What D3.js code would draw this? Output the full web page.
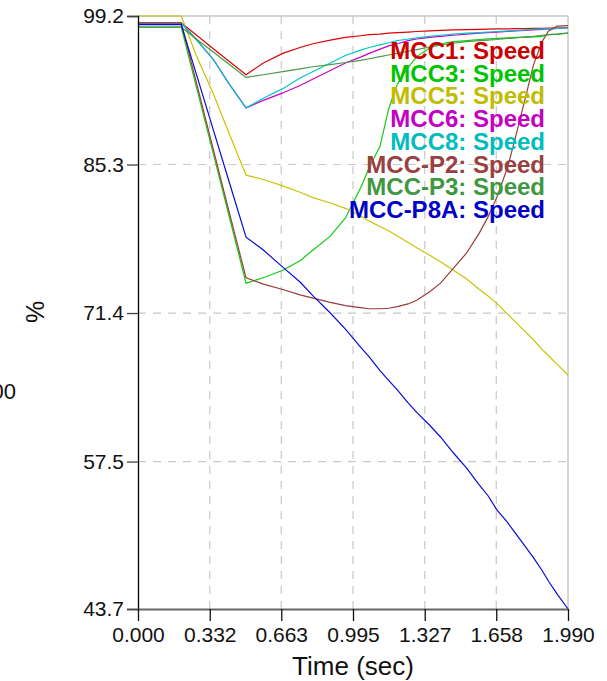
<!DOCTYPE html>
<html>
<head>
<meta charset="utf-8">
<script src="https://cdn.jsdelivr.net/npm/d3@7"></script>
<style>
  body { margin: 0; background: #fff; }
  svg { display: block; font-family: "Liberation Sans", Arial, sans-serif; }
</style>
</head>
<body>
<svg id="chart" width="607" height="681"></svg>
<script>
// time grid (sec) shared by all series
const times = [0, 0.2, 0.27, 0.35, 0.42, 0.5, 0.58, 0.67, 0.75, 0.81, 0.89, 0.96, 1.03, 1.07, 1.12, 1.16,
  1.2, 1.25, 1.29, 1.35, 1.4, 1.46, 1.52, 1.58, 1.62, 1.66, 1.71, 1.75, 1.79, 1.83, 1.87, 1.9, 1.94, 1.99];

const mcc1 = [98.55, 98.55, 97.42, 96.12, 94.99, 93.7, 94.8, 95.7, 96.25, 96.6, 96.95, 97.2, 97.35, 97.45, 97.5, 97.6,
  97.65, 97.7, 97.75, 97.8, 97.85, 97.9, 97.92, 97.95, 97.97, 98.0, 98.0, 98.02, 98.03, 98.05, 98.05, 98.06, 98.07, 98.1];
const mcc3 = [98.15, 98.15, 92.56, 86.2, 80.6, 74.2, 74.7, 75.4, 76.3, 77.3, 78.6, 80.3, 83.1, 85.0, 87.0, 90.5,
  92.8, 94.4, 95.4, 96.2, 96.6, 96.8, 96.9, 97.0, 97.05, 97.1, 97.15, 97.2, 97.2, 97.25, 97.3, 97.45, 97.5, 97.6];
const mcc5 = [99.2, 99.2, 95.5, 91.85, 88.3, 84.3, 83.9, 83.3, 82.7, 82.2, 81.7, 81.2, 80.5, 80.0, 79.5, 79.1,
  78.6, 78.0, 77.5, 76.8, 76.2, 75.4, 74.6, 73.6, 73.0, 72.3, 71.3, 70.5, 69.7, 68.9, 68.0, 67.4, 66.6, 65.6];
const mcc6 = [98.55, 98.55, 97.0, 95.1, 92.9, 90.6, 91.3, 92.0, 92.7, 93.3, 94.1, 94.8, 95.35, 95.7, 96.1, 96.4,
  96.6, 96.9, 97.05, 97.2, 97.3, 97.4, 97.5, 97.6, 97.65, 97.7, 97.75, 97.8, 97.85, 97.9, 97.95, 98.0, 98.05, 98.1];
const mcc8 = [98.55, 98.55, 97.0, 95.1, 92.9, 90.6, 91.5, 92.4, 93.4, 94.0, 94.8, 95.5, 96.0, 96.25, 96.5, 96.7,
  96.9, 97.05, 97.15, 97.3, 97.4, 97.5, 97.6, 97.65, 97.7, 97.75, 97.8, 97.85, 97.9, 97.95, 98.0, 98.0, 98.05, 98.1];
const mccP2 = [98.55, 98.55, 92.99, 86.6, 81.0, 74.7, 74.1, 73.6, 73.1, 72.8, 72.4, 72.1, 71.9, 71.8, 71.8, 71.85,
  72.0, 72.25, 72.6, 73.4, 74.2, 75.6, 77.0, 78.9, 80.4, 82.2, 85.0, 88.1, 91.3, 94.6, 96.8, 97.8, 98.25, 98.3];
const mccP3 = [98.15, 98.15, 97.05, 95.8, 94.7, 93.45, 93.7, 94.0, 94.25, 94.45, 94.65, 94.85, 95.05, 95.2, 95.4, 95.55,
  95.7, 95.9, 96.05, 96.3, 96.5, 96.65, 96.8, 96.9, 96.95, 97.0, 97.1, 97.15, 97.25, 97.3, 97.4, 97.45, 97.5, 97.6];
const mccP8A = [98.4, 98.4, 93.76, 88.45, 83.8, 78.5, 77.3, 75.7, 74.3, 73.0, 71.4, 69.9, 68.2, 67.3, 66.0, 65.1,
  64.2, 63.0, 62.1, 60.9, 59.8, 58.3, 56.9, 55.3, 54.3, 53.0, 51.8, 50.7, 49.6, 48.5, 47.3, 46.3, 45.1, 43.7];

const seriesNames = ["MCC1: Speed", "MCC3: Speed", "MCC5: Speed", "MCC6: Speed", "MCC8: Speed",
  "MCC-P2: Speed", "MCC-P3: Speed", "MCC-P8A: Speed"];
const seriesValues = [mcc1, mcc3, mcc5, mcc6, mcc8, mccP2, mccP3, mccP8A];

const xTicks = [0, 0.332, 0.663, 0.995, 1.327, 1.658, 1.99];
const xTickLabels = ["0.000", "0.332", "0.663", "0.995", "1.327", "1.658", "1.990"];
const yTicks = [43.7, 57.5, 71.4, 85.3, 99.2];
const yTickLabels = ["43.7", "57.5", "71.4", "85.3", "99.2"];

const lineColors = ["#dd0000", "#11cc11", "#c8c400", "#cc00cc", "#00c8c8", "#9a3c3c", "#479a47", "#0a0ad8"];
const textColors = ["#cc0000", "#00c400", "#c0bc00", "#c400c4", "#00bcbc", "#9a4040", "#3f983f", "#0000c8"];

const svg = d3.select("#chart");
const plot = { left: 138, right: 568, top: 16, bottom: 609 };

const x = d3.scaleLinear().domain([0, 1.99]).range([plot.left, plot.right]);
const y = d3.scaleLinear().domain([43.7, 99.2]).range([plot.bottom, plot.top]);

// grid
const grid = svg.append("g");
grid.selectAll("line.h")
  .data(yTicks.slice(1, -1))
  .enter().append("line")
  .attr("x1", plot.left).attr("x2", plot.right)
  .attr("y1", d => y(d)).attr("y2", d => y(d))
  .attr("stroke", "#c8c8c8").attr("stroke-width", 1.2).attr("stroke-dasharray", "8,7");
grid.selectAll("line.v")
  .data(xTicks.slice(1, -1))
  .enter().append("line")
  .attr("x1", d => x(d)).attr("x2", d => x(d))
  .attr("y1", plot.top).attr("y2", plot.bottom)
  .attr("stroke", "#c8c8c8").attr("stroke-width", 1.2).attr("stroke-dasharray", "8,7");
grid.append("line")
  .attr("x1", plot.left).attr("x2", plot.right).attr("y1", plot.top).attr("y2", plot.top)
  .attr("stroke", "#c8c8c8").attr("stroke-width", 1.5);
grid.append("line")
  .attr("x1", plot.right).attr("x2", plot.right).attr("y1", plot.top).attr("y2", plot.bottom)
  .attr("stroke", "#c8c8c8").attr("stroke-width", 1.5);

// curves
const line = d3.line()
  .x((d, i) => x(times[i]))
  .y(d => y(d));

svg.append("g")
  .selectAll("path")
  .data(seriesValues)
  .enter().append("path")
  .attr("d", d => line(d))
  .attr("fill", "none")
  .attr("stroke", (d, i) => lineColors[i])
  .attr("stroke-width", 1.2);

// axes
const yAxis = svg.append("g")
  .attr("transform", `translate(${plot.left},0)`)
  .call(d3.axisLeft(y).tickValues(yTicks).tickFormat((d, i) => yTickLabels[i]).tickSize(11).tickPadding(3));
yAxis.select(".domain").attr("stroke", "#000").attr("stroke-width", 1.3);
yAxis.selectAll(".tick line").attr("stroke", "#444").attr("stroke-width", 1.3);
yAxis.selectAll(".tick text").attr("font-size", 21).attr("fill", "#111")
  .attr("font-family", "'Liberation Sans', Arial, sans-serif");

const xAxis = svg.append("g")
  .attr("transform", `translate(0,${plot.bottom})`)
  .call(d3.axisBottom(x).tickValues(xTicks).tickFormat((d, i) => xTickLabels[i]).tickSizeInner(12).tickSizeOuter(0).tickPadding(6));
xAxis.select(".domain").attr("stroke", "#666").attr("stroke-width", 2);
xAxis.selectAll(".tick line").attr("stroke", "#111").attr("stroke-width", 1.3);
xAxis.selectAll(".tick text").attr("font-size", 21).attr("fill", "#111")
  .attr("font-family", "'Liberation Sans', Arial, sans-serif");

// axis titles
svg.append("text")
  .attr("x", (plot.left + plot.right) / 2).attr("y", 675)
  .attr("text-anchor", "middle")
  .attr("font-size", 26).attr("fill", "#111")
  .text("Time (sec)");

svg.append("text")
  .attr("transform", "translate(44,312) rotate(-90)")
  .attr("text-anchor", "middle")
  .attr("font-size", 25).attr("fill", "#111")
  .text("%");

svg.append("text")
  .attr("x", 16).attr("y", 399)
  .attr("text-anchor", "end")
  .attr("font-size", 22).attr("fill", "#111")
  .text("100");

// legend
svg.append("g")
  .selectAll("text")
  .data(seriesNames)
  .enter().append("text")
  .attr("x", 545)
  .attr("y", (d, i) => 59 + i * 22.7)
  .attr("text-anchor", "end")
  .attr("font-size", 24)
  .attr("font-weight", "bold")
  .attr("fill", (d, i) => textColors[i])
  .text(d => d);
</script>
</body>
</html>
